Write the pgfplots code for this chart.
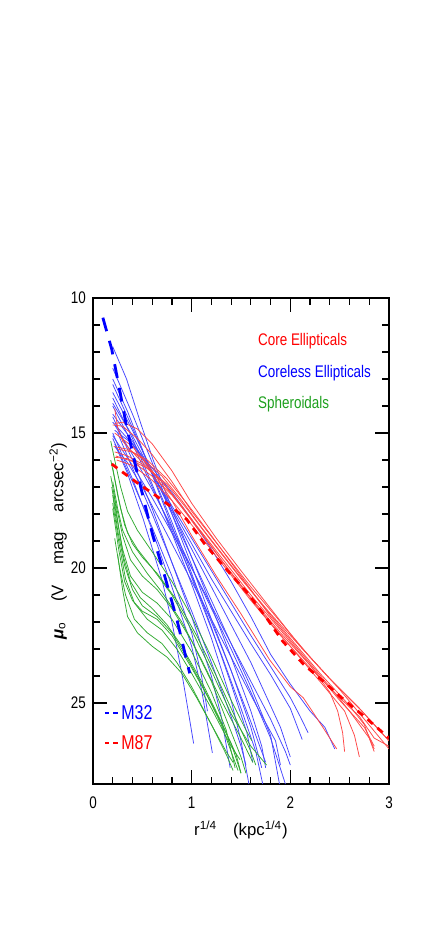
\documentclass[border=0pt]{standalone}
\usepackage{fontspec}
\setmainfont{Liberation Sans}
\newfontfamily\narrow{Liberation Sans}[FakeStretch=0.8]
\usepackage{pgfplots}
\pgfplotsset{compat=1.18}
\definecolor{cred}{RGB}{255,0,0}
\definecolor{cblue}{RGB}{0,0,255}
\definecolor{cgreen}{RGB}{30,160,30}
\definecolor{lred}{RGB}{255,70,70}
\definecolor{lblue}{RGB}{70,70,255}
\definecolor{lgreen}{RGB}{50,170,50}
\pgfplotsset{
  redc/.style={lred, line width=0.38pt},
  bluec/.style={lblue, line width=0.38pt},
  greenc/.style={lgreen, line width=0.38pt},
}
\newcommand{\lab}{\narrow\fontsize{8.4}{10}\selectfont}
\begin{document}
\begin{tikzpicture}
\useasboundingbox (-46.5pt,-80pt) rectangle (177pt,392pt);
\begin{axis}[
  at={(0,0)}, anchor=south west,
  scale only axis, width=148pt, height=243pt,
  xmin=0, xmax=3, ymin=10, ymax=28, y dir=reverse,
  xtick={0,1,2,3}, ytick={10,15,20,25},
  minor x tick num=4, minor y tick num=4,
  tick align=inside,
  major tick length=7pt, minor tick length=3.5pt,
  every tick/.style={black, line width=0.6pt},
  axis line style={line width=0.8pt},
  tick label style={font=\lab},
  /pgf/number format/assume math mode=true,
  xticklabel style={yshift=-3pt},
  label style={font=\fontsize{8.4}{10}\selectfont},
  xlabel={r\textsuperscript{1/4}\hspace{8pt}(kpc\textsuperscript{1/4})},
  ylabel={\textbf{\textit{μ}}\textsubscript{o}\hspace{10pt}(V\hspace{10pt}mag\hspace{10pt}arcsec\textsuperscript{−2})},
  xlabel style={at={(axis description cs:0.5,-0.095)}, anchor=center},
  ylabel style={at={(axis description cs:-0.118,0.5)}, anchor=center},
]
% coreless ellipticals
\addplot[bluec] coordinates {(0.22,14.9)(0.4,15.4)(0.6,16.3)(0.8,17.2)(1.0,18.2)(1.2,19.3)(1.4,20.5)(1.6,21.8)(1.8,23.2)(2.0,24.3)(2.2,25.3)(2.35,25.9)(2.45,26.7)};
\addplot[bluec] coordinates {(0.2,14.6)(0.4,15.4)(0.6,16.5)(0.8,17.7)(1.0,18.9)(1.2,20.1)(1.4,21.3)(1.6,22.5)(1.8,23.65)(2.0,24.8)(2.1,25.5)(2.18,26.1)};
\addplot[bluec] coordinates {(0.2,14.3)(0.4,15.3)(0.6,16.5)(0.8,17.8)(1.0,19.1)(1.2,20.4)(1.4,21.6)(1.6,22.8)(1.8,23.95)(2.0,25.2)(2.12,26.35)};
\addplot[bluec] coordinates {(0.2,13.9)(0.4,15.1)(0.6,16.5)(0.8,17.9)(1.0,19.3)(1.2,20.7)(1.4,22.1)(1.6,23.5)(1.8,25.1)(1.9,25.9)(2.0,27.0)};
\addplot[bluec] coordinates {(0.2,13.5)(0.4,14.9)(0.6,16.4)(0.8,18.0)(1.0,19.6)(1.2,21.2)(1.4,22.8)(1.6,24.4)(1.8,26.2)(1.89,28.0)};
\addplot[bluec] coordinates {(0.2,11.8)(0.34,13.0)(0.48,14.6)(0.61,16.0)(0.8,17.8)(1.0,19.6)(1.2,21.4)(1.4,23.3)(1.6,25.3)(1.71,26.6)(1.75,27.4)};
\addplot[bluec] coordinates {(0.2,12.6)(0.4,14.3)(0.6,16.1)(0.8,18.0)(1.0,19.9)(1.2,21.9)(1.4,23.8)(1.6,25.9)(1.71,27.4)};
\addplot[bluec] coordinates {(0.2,13.2)(0.4,14.8)(0.6,16.5)(0.8,18.3)(1.0,20.2)(1.2,22.2)(1.4,24.3)(1.56,26.1)(1.62,27.2)};
\addplot[bluec] coordinates {(0.2,13.7)(0.4,15.2)(0.6,16.9)(0.8,18.7)(1.0,20.6)(1.2,22.6)(1.4,24.9)(1.5,26.4)(1.58,28.0)};
\addplot[bluec] coordinates {(0.2,14.4)(0.4,16.0)(0.6,17.8)(0.8,19.8)(1.0,21.8)(1.2,24.0)(1.3,25.5)(1.39,27.4)};
\addplot[bluec] coordinates {(0.2,15.0)(0.4,16.7)(0.6,18.6)(0.8,20.7)(1.0,22.9)(1.1,24.5)(1.21,26.85)};
\addplot[bluec] coordinates {(0.2,15.2)(0.4,16.8)(0.6,18.5)(0.8,20.3)(1.0,22.4)(1.1,24.0)(1.16,25.3)};
\addplot[bluec] coordinates {(0.22,15.4)(0.35,16.5)(0.51,18.2)(0.7,20.45)(0.8,22.0)(0.91,24.1)(1.02,26.5)};
\addplot[bluec] coordinates {(0.2,14.0)(0.4,15.4)(0.6,17.0)(0.8,18.6)(1.0,20.3)(1.2,22.0)(1.4,23.8)(1.6,25.7)(1.75,27.2)};
\addplot[bluec] coordinates {(0.22,14.7)(0.4,15.8)(0.6,17.1)(0.8,18.5)(1.0,20.0)(1.2,21.5)(1.4,23.0)(1.6,24.6)(1.8,26.3)(1.95,28.0)};
\addplot[bluec] coordinates {(0.2,15.1)(0.4,16.2)(0.6,17.4)(0.8,18.7)(1.0,20.0)(1.2,21.4)(1.4,22.8)(1.6,24.2)(1.8,25.6)(1.95,26.8)(2.0,27.3)};
\addplot[bluec] coordinates {(0.25,15.0)(0.4,16.3)(0.6,18.0)(0.8,19.8)(1.0,21.6)(1.2,23.5)(1.4,25.5)(1.5,26.6)(1.55,27.3)};
\addplot[bluec] coordinates {(0.2,13.0)(0.35,14.2)(0.5,15.6)(0.7,17.5)(0.9,19.4)(1.1,21.3)(1.3,23.2)(1.5,25.2)(1.65,26.8)(1.72,28.0)};
\addplot[bluec] coordinates {(0.22,15.5)(0.35,16.1)(0.5,17.0)(0.7,18.4)(0.9,19.8)(1.1,21.2)(1.3,22.6)(1.5,24.0)(1.7,25.4)(1.85,26.4)(1.9,27.3)};
% core ellipticals
\addplot[redc] coordinates {(0.22,14.65)(0.3,14.6)(0.45,14.85)(0.6,15.4)(0.8,16.4)(1.0,17.6)(1.25,18.9)(1.5,20.1)(1.8,21.5)(2.1,22.9)(2.4,24.1)(2.7,25.2)(3.0,26.4)};
\addplot[redc] coordinates {(0.2,14.7)(0.3,14.75)(0.45,15.2)(0.6,15.8)(0.8,16.8)(1.0,17.9)(1.3,19.3)(1.6,20.7)(1.9,22.0)(2.2,23.3)(2.5,24.5)(2.75,25.6)(3.0,26.7)};
\addplot[redc] coordinates {(0.21,15.5)(0.35,15.6)(0.5,15.95)(0.7,16.6)(0.9,17.5)(1.1,18.5)(1.4,19.9)(1.7,21.3)(2.0,22.6)(2.3,23.9)(2.6,25.1)(2.75,25.8)(2.85,26.8)};
\addplot[redc] coordinates {(0.22,15.7)(0.35,15.85)(0.5,16.15)(0.7,16.8)(0.9,17.7)(1.1,18.7)(1.4,20.2)(1.7,21.6)(2.0,22.9)(2.3,24.2)(2.55,25.3)(2.65,26.2)(2.7,27.0)};
\addplot[redc] coordinates {(0.23,15.85)(0.4,16.05)(0.6,16.6)(0.8,17.3)(1.0,18.2)(1.3,19.6)(1.6,21.0)(1.9,22.3)(2.2,23.6)(2.4,24.6)(2.48,25.3)(2.53,26.1)(2.55,26.8)};
\addplot[redc] coordinates {(0.24,16.0)(0.4,16.2)(0.6,16.75)(0.8,17.5)(1.0,18.4)(1.3,19.8)(1.6,21.2)(1.9,22.5)(2.2,23.7)(2.5,24.8)(2.7,25.5)(2.85,26.3)(3.0,26.6)};
\addplot[redc] coordinates {(0.22,15.0)(0.4,15.5)(0.6,16.4)(0.8,17.5)(1.0,18.8)(1.25,20.3)(1.5,21.7)(1.79,23.4)(2.0,24.4)(2.13,24.8)(2.33,25.9)(2.47,26.7)};
\addplot[redc] coordinates {(0.22,14.1)(0.25,14.8)(0.3,15.3)(0.45,15.9)(0.65,16.6)(0.85,17.5)(1.05,18.5)(1.3,19.7)(1.6,21.1)(1.9,22.4)(2.2,23.6)(2.5,24.9)(2.75,25.9)(2.85,26.6)};
\addplot[redc] coordinates {(0.22,15.9)(0.35,15.95)(0.55,16.3)(0.75,16.9)(0.95,17.8)(1.2,19.0)(1.5,20.4)(1.8,21.7)(2.1,22.9)(2.4,24.1)(2.7,25.2)(3.0,26.4)};
\addplot[redc] coordinates {(0.25,15.6)(0.4,15.7)(0.55,16.0)(0.75,16.7)(0.95,17.6)(1.2,18.8)(1.5,20.3)(1.8,21.8)(2.1,23.1)(2.4,24.4)(2.6,25.3)(2.8,26.3)(2.85,26.7)};
% spheroidals
\addplot[greenc] coordinates {(0.18,15.3)(0.22,16.0)(0.28,17.0)(0.35,17.9)(0.45,18.6)(0.6,19.4)(0.8,20.5)(1.0,21.8)(1.2,23.3)(1.4,24.9)(1.55,26.0)(1.61,26.4)};
\addplot[greenc] coordinates {(0.18,16.0)(0.22,16.7)(0.28,17.8)(0.35,18.7)(0.45,19.3)(0.6,20.0)(0.8,21.0)(1.0,22.3)(1.2,23.8)(1.4,25.4)(1.6,26.6)(1.76,27.3)};
\addplot[greenc] coordinates {(0.18,16.6)(0.23,17.6)(0.3,18.8)(0.38,19.7)(0.5,20.3)(0.65,20.8)(0.8,21.5)(1.0,22.7)(1.2,24.2)(1.35,25.6)(1.5,27.0)(1.55,27.6)};
\addplot[greenc] coordinates {(0.19,17.0)(0.24,18.1)(0.3,19.3)(0.38,20.3)(0.5,20.9)(0.65,21.3)(0.8,21.9)(1.0,23.1)(1.2,24.6)(1.35,26.0)(1.44,27.4)};
\addplot[greenc] coordinates {(0.2,17.3)(0.25,18.6)(0.32,19.9)(0.4,20.8)(0.5,21.4)(0.65,21.8)(0.8,22.4)(0.95,23.3)(1.1,24.3)(1.3,25.8)(1.47,27.5)};
\addplot[greenc] coordinates {(0.2,17.6)(0.26,19.0)(0.33,20.4)(0.42,21.3)(0.55,21.9)(0.7,22.3)(0.85,23.0)(1.0,23.9)(1.2,25.2)(1.4,26.6)(1.49,27.1)};
\addplot[greenc] coordinates {(0.22,18.9)(0.27,20.0)(0.33,21.0)(0.42,21.9)(0.55,22.4)(0.7,22.8)(0.85,23.5)(1.0,24.4)(1.2,25.8)(1.35,26.8)(1.42,27.2)};
\addplot[greenc] coordinates {(0.2,16.3)(0.25,17.3)(0.32,18.4)(0.4,19.1)(0.5,19.6)(0.65,20.2)(0.85,21.2)(1.05,22.5)(1.25,24.0)(1.45,25.6)(1.6,26.8)(1.65,27.3)};
\addplot[greenc] coordinates {(0.2,17.8)(0.26,19.3)(0.32,20.5)(0.4,21.2)(0.5,21.6)(0.65,21.9)(0.8,22.5)(1.0,23.7)(1.2,25.0)(1.4,26.5)(1.5,27.6)};
\addplot[greenc] coordinates {(0.25,19.5)(0.3,20.8)(0.35,21.8)(0.45,22.4)(0.6,22.9)(0.75,23.3)(0.9,23.9)(1.05,24.8)(1.2,25.8)(1.35,26.9)(1.42,27.5)};
\addplot[greenc] coordinates {(0.2,16.8)(0.25,17.8)(0.3,18.6)(0.4,19.4)(0.55,20.2)(0.7,20.9)(0.9,22.0)(1.1,23.4)(1.3,24.9)(1.5,26.3)(1.62,27.2)};
\addplot[greenc] coordinates {(0.21,17.2)(0.26,18.5)(0.31,19.6)(0.38,20.5)(0.48,21.1)(0.6,21.5)(0.75,22.1)(0.9,22.9)(1.1,24.2)(1.3,25.7)(1.45,26.9)(1.5,27.6)};
% M32 and M87
\addplot[cblue, line width=1.4pt, dash pattern=on 7pt off 5pt] coordinates {(0.10,10.73)(0.19,11.9)(0.27,13.4)(0.34,14.76)(0.45,16.5)(0.53,17.7)(0.61,18.85)(0.70,19.95)(0.85,21.9)(0.98,23.9)};
\addplot[cred, line width=1.4pt, dash pattern=on 3.5pt off 3pt] coordinates {(0.19,16.15)(0.30,16.45)(0.45,16.85)(0.63,17.3)(0.8,17.75)(0.95,18.2)(1.13,19.1)(1.34,20.0)(1.56,20.9)(1.75,21.8)(1.92,22.7)(2.13,23.55)(2.35,24.25)(2.55,24.9)(2.75,25.5)(3.0,26.3)};
% key
\addplot[cblue, line width=1pt, dash pattern=on 2.2pt off 2pt] coordinates {(0.12,25.37)(0.255,25.37)};
\addplot[cred, line width=1pt, dash pattern=on 2.2pt off 2pt] coordinates {(0.12,26.47)(0.255,26.47)};
\node[anchor=west, inner sep=0pt, text=cblue, font=\narrow\fontsize{10}{12}\selectfont] at (axis cs:0.283,25.37) {M32};
\node[anchor=west, inner sep=0pt, text=cred, font=\narrow\fontsize{10}{12}\selectfont] at (axis cs:0.283,26.47) {M87};
\node[anchor=west, inner sep=0pt, text=cred, font=\lab] at (axis cs:1.67,11.59) {Core Ellipticals};
\node[anchor=west, inner sep=0pt, text=cblue, font=\lab] at (axis cs:1.67,12.78) {Coreless Ellipticals};
\node[anchor=west, inner sep=0pt, text=cgreen, font=\lab] at (axis cs:1.67,13.93) {Spheroidals};
\end{axis}
\end{tikzpicture}
\end{document}
